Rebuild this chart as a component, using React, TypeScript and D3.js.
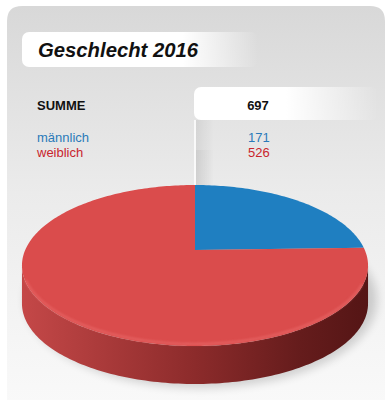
import React from "react";
import * as d3 from "d3";

const title = "Geschlecht 2016";
const sumLabel = "SUMME";
const categories = ["männlich", "weiblich"];
const values = [171, 526];
const topColors = ["#1f7fc1", "#da4c4c"];
const textColors = ["#2a7ab9", "#c9252d"];
const sideStops = [
  ["#1d6aa3", "#14507d", "#0e3a5c", "#0b2f4a"],
  ["#c54848", "#8c2b2b", "#651c1c", "#541515"],
];

const W = 390;
const H = 400;
// projection parameters
const cx = 195;
const cy = 250;
const A = 77.5;
const B = 0.1926;
const C = 169.8;
const DEPTH = 38;

function proj(theta: number, dy = 0): [number, number] {
  const u = Math.sin(theta);
  const v = -Math.cos(theta);
  const k = 1 - B * v;
  return [cx + (C * u) / k, cy + (A * v) / k + dy];
}

function arcPts(a0: number, a1: number, dy = 0): [number, number][] {
  const n = Math.max(2, Math.ceil(Math.abs(a1 - a0) / 0.02));
  const pts: [number, number][] = [];
  for (let i = 0; i <= n; i++) pts.push(proj(a0 + ((a1 - a0) * i) / n, dy));
  return pts;
}

function findExtremum(lo: number, hi: number, max: boolean) {
  let best = lo;
  let bestX = proj(lo)[0];
  for (let t = lo; t <= hi; t += 0.0005) {
    const x = proj(t)[0];
    if (max ? x > bestX : x < bestX) {
      bestX = x;
      best = t;
    }
  }
  return best;
}

const line = d3.line();

export default function App() {
  const pie = d3
    .pie<number>()
    .sort(null)
    .startAngle(0)
    .endAngle(2 * Math.PI);
  const arcs = pie(values);
  const total = d3.sum(values);

  const thR = findExtremum(Math.PI / 2, Math.PI, true);
  const thL = findExtremum(Math.PI, (3 * Math.PI) / 2, false);

  const tops = arcs.map((a) => {
    const pts = [[cx, cy] as [number, number], ...arcPts(a.startAngle, a.endAngle)];
    return line(pts)! + "Z";
  });

  const sides = arcs
    .map((a, i) => {
      const s = Math.max(a.startAngle, thR);
      const e = Math.min(a.endAngle, thL);
      if (s >= e) return null;
      const pts = [...arcPts(s, e), ...arcPts(e, s, DEPTH)];
      return { i, d: line(pts)! + "Z" };
    })
    .filter(Boolean) as { i: number; d: string }[];

  const rimPath = line(arcPts(thR + 0.25, thL - 0.2))!;
  const [vx, vy] = proj(0);

  return (
    <svg
      width={W}
      height={H}
      style={{ position: "absolute", left: 0, top: 0 }}
      fontFamily="'Liberation Sans', Arial, sans-serif"
    >
      <defs>
        <linearGradient id="bg" x1="0" y1="0" x2="0" y2="1">
          <stop offset="0" stopColor="#d8d8d8" />
          <stop offset="0.45" stopColor="#ebebeb" />
          <stop offset="0.8" stopColor="#f5f5f5" />
          <stop offset="1" stopColor="#fafafa" />
        </linearGradient>
        <linearGradient id="titleG" x1="22" x2="258" y1="0" y2="0" gradientUnits="userSpaceOnUse">
          <stop offset="0" stopColor="#fff" stopOpacity="1" />
          <stop offset="0.68" stopColor="#fff" stopOpacity="1" />
          <stop offset="1" stopColor="#fff" stopOpacity="0" />
        </linearGradient>
        <linearGradient id="tabG" x1="194" x2="378" y1="0" y2="0" gradientUnits="userSpaceOnUse">
          <stop offset="0" stopColor="#fff" stopOpacity="1" />
          <stop offset="0.5" stopColor="#fff" stopOpacity="1" />
          <stop offset="1" stopColor="#fff" stopOpacity="0" />
        </linearGradient>
        <linearGradient id="tabShadow" x1="196" x2="214" y1="0" y2="0" gradientUnits="userSpaceOnUse">
          <stop offset="0" stopColor="#000" stopOpacity="0.07" />
          <stop offset="1" stopColor="#000" stopOpacity="0" />
        </linearGradient>
        {sideStops.map((st, i) => (
          <linearGradient key={i} id={`side${i}`} x1="20" x2="370" y1="0" y2="0" gradientUnits="userSpaceOnUse">
            <stop offset="0" stopColor={st[0]} />
            <stop offset="0.5" stopColor={st[1]} />
            <stop offset="0.8" stopColor={st[2]} />
            <stop offset="1" stopColor={st[3]} />
          </linearGradient>
        ))}
        <filter id="blur6" x="-20%" y="-20%" width="140%" height="140%">
          <feGaussianBlur stdDeviation="5" />
        </filter>
        <filter id="blur1" x="-5%" y="-5%" width="110%" height="110%">
          <feGaussianBlur stdDeviation="1.2" />
        </filter>
      </defs>

      <rect x={0} y={0} width={W} height={H} fill="#fff" />
      <path
        d={`M7,${H + 20} V21 Q7,6 22,6 H370 Q385,6 385,21 V${H + 20} Z`}
        fill="url(#bg)"
      />

      {/* title box */}
      <rect x={22} y={32} width={236} height={35} rx={7} fill="url(#titleG)" />
      <text x={38} y={57} fontSize={20.3} fontWeight="bold" fontStyle="italic" fill="#111">
        {title}
      </text>

      {/* summary tab */}
      <rect x={194} y={87} width={184} height={33} rx={7} fill="url(#tabG)" />
      <rect x={196} y={120} width={20} height={vy - 120} fill="url(#tabShadow)" />

      <text x={37} y={110} fontSize={13} fontWeight="bold" fill="#111">
        {sumLabel}
      </text>
      <text x={258} y={110} fontSize={13} fontWeight="bold" fill="#111" textAnchor="middle">
        {total}
      </text>
      {categories.map((c, i) => (
        <g key={c}>
          <text x={37} y={142 + i * 15} fontSize={13} fill={textColors[i]}>
            {c}
          </text>
          <text x={248} y={142 + i * 15} fontSize={13} fill={textColors[i]}>
            {values[i]}
          </text>
        </g>
      ))}

      {/* shadow */}
      <ellipse cx={cx + 6} cy={cy + 50} rx={176} ry={88} fill="#000" opacity={0.16} filter="url(#blur6)" />

      {/* sides */}
      {sides.map((s) => (
        <path key={s.i} d={s.d} fill={`url(#side${s.i})`} />
      ))}

      {/* tops */}
      {tops.map((d, i) => (
        <path key={i} d={d} fill={topColors[i]} />
      ))}
      <rect x={196} y={150} width={18} height={vy - 150} fill="url(#tabShadow)" opacity={0.6} />

      {/* rim highlight */}
      <path d={rimPath} fill="none" stroke="#ee7272" strokeWidth={2.2} opacity={0.55} filter="url(#blur1)" transform="translate(0,-2)" />

      {/* separator */}
      <line x1={vx} x2={vx} y1={120} y2={vy} stroke="#fff" strokeWidth={1.5} />
    </svg>
  );
}
